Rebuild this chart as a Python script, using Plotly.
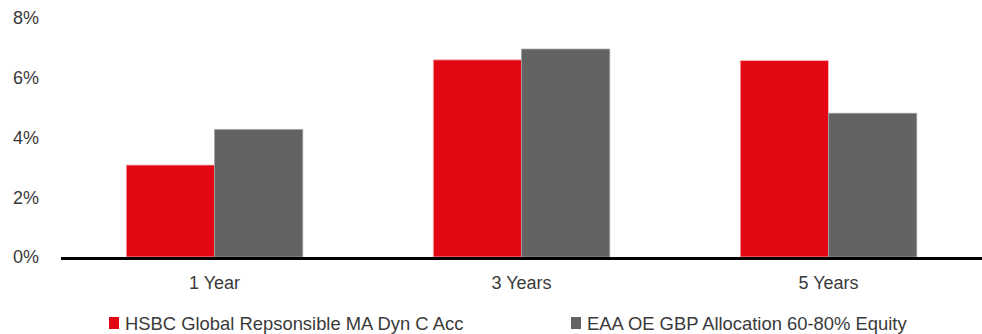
import plotly.graph_objects as go

categories = ["1 Year", "3 Years", "5 Years"]
fund_name = "HSBC Global Repsonsible MA Dyn C Acc"
fund_values = [3.08, 6.60, 6.58]
peer_name = "EAA OE GBP Allocation 60-80% Equity"
peer_values = [4.27, 6.96, 4.81]
y_ticks = [0, 2, 4, 6, 8]
y_tick_labels = ["0%", "2%", "4%", "6%", "8%"]

RED = "#E30613"
GREY = "#636363"
TEXT = "#3a3a3a"

W, H = 982, 334
L, R, T, B = 61, 0, 18, 77
PW, PH = W - L - R, H - T - B

fig = go.Figure()
series = [(fund_name, fund_values, RED, "#f4c0c0"), (peer_name, peer_values, GREY, "#a0a0a0")]
for name, vals, col, edge in series:
    fig.add_trace(go.Bar(x=categories, y=vals, name=name, showlegend=False,
                         marker=dict(color=col, line=dict(color=edge, width=0.8))))

# custom legend (swatch + label), positioned in pixels converted to paper coords
legend_text_x = [123, 585]
legend_cy = 323
for (name, vals, col, edge), tx in zip(series, legend_text_x):
    fig.add_shape(type="rect", xref="paper", yref="paper",
                  x0=(tx - 14 - L) / PW, x1=(tx - 4 - L) / PW,
                  y0=(H - B - (legend_cy + 6)) / PH, y1=(H - B - (legend_cy - 6)) / PH,
                  fillcolor=col, line=dict(width=0))
    fig.add_annotation(xref="paper", yref="paper", x=(tx - L) / PW, y=(H - B - legend_cy) / PH,
                       xanchor="left", yanchor="middle", showarrow=False, text=name,
                       font=dict(size=18.4, color=TEXT))

fig.update_layout(
    width=W, height=H,
    margin=dict(l=L, r=R, t=T, b=B),
    paper_bgcolor="white", plot_bgcolor="white",
    barmode="group", bargap=0.425, bargroupgap=0,
    font=dict(family="Liberation Sans, Arial, sans-serif", size=18, color=TEXT),
    showlegend=False,
)
fig.update_xaxes(showline=True, linecolor="black", linewidth=3, showgrid=False,
                 ticks="", ticklabelstandoff=7, zeroline=False, automargin=False)
fig.update_yaxes(range=[0, 8], tickvals=y_ticks, ticktext=y_tick_labels,
                 showgrid=False, zeroline=False, showline=False, ticks="",
                 ticklabelstandoff=21, automargin=False)

fig.write_html("out.html", config={"displayModeBar": False},
               post_script="document.body.style.margin='0';document.body.style.overflow='hidden';")
